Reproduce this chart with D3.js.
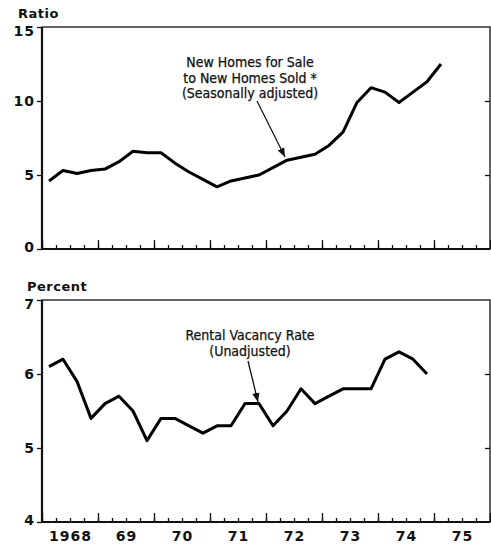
<!DOCTYPE html>
<html>
  <head>
    <meta http-equiv="Content-type" content="text/html; charset=utf-8">
    <title>Housing Ratios</title>
    <script src="https://d3js.org/d3.v7.min.js"></script>
    <style>
      body { margin: 0; background: #fff; }
      .tick text { font-family: "DejaVu Sans", sans-serif; font-weight: bold; font-size: 14px; letter-spacing: 1px; fill: #111; }
      .domain { display: none; }
      .note { font-family: "Liberation Sans Narrow", "DejaVu Sans Condensed", sans-serif; font-size: 14px; fill: #111; stroke: #111; stroke-width: 0.25px; }
      .unit { font-family: "DejaVu Sans", sans-serif; font-weight: bold; font-size: 13px; letter-spacing: 0.5px; fill: #111; }
    </style>
  </head>
  <body>
    <div id="chart"></div>
    <script type="text/javascript">
      // quarters 1968Q1 .. 1975Q1
      var years = [1968, 1969, 1970, 1971, 1972, 1973, 1974, 1975];
      var yearLabels = ["1968", "69", "70", "71", "72", "73", "74", "75"];

      // new homes for sale / new homes sold, quarterly
      var ratioValues = [4.6, 5.3, 5.1, 5.3, 5.4, 5.9, 6.6, 6.5, 6.5, 5.8, 5.2, 4.7, 4.2, 4.6, 4.8,
                         5.0, 5.5, 6.0, 6.2, 6.4, 7.0, 7.9, 9.9, 10.9, 10.6, 9.9, 10.6, 11.3, 12.5];
      // rental vacancy rate, quarterly
      var vacancyValues = [6.1, 6.2, 5.9, 5.4, 5.6, 5.7, 5.5, 5.1, 5.4, 5.4, 5.3, 5.2, 5.3, 5.3,
                           5.6, 5.6, 5.3, 5.5, 5.8, 5.6, 5.7, 5.8, 5.8, 5.8, 6.2, 6.3, 6.2, 6.0];
      var ratioTicks = [0, 5, 10, 15];
      var vacancyTicks = [4, 5, 6, 7];

      var width = 491, height = 548;
      var left = 42, right = 490;

      var svg = d3.select("#chart").append("svg")
        .attr("width", width)
        .attr("height", height);

      var x = d3.scaleLinear().domain([1968, 1976]).range([left, right]);
      // position of quarter i (middle of the quarter)
      function qx(d, i) { return x(1968 + (i + 0.5) / 4); }

      var quarterTicks = d3.range(1968, 1976.01, 0.25);
      var yearTicks = d3.range(1968, 1976.01, 1);

      function panel(top, bottom, domain, ticks, values, unitLabel, unitX) {
        var y = d3.scaleLinear().domain(domain).range([bottom, top]);
        var g = svg.append("g");

        // frame
        g.append("rect")
          .attr("x", left).attr("y", top)
          .attr("width", right - left).attr("height", bottom - top)
          .attr("fill", "none").attr("stroke", "#111").attr("stroke-width", 1.3);
        g.append("line").attr("x1", left).attr("x2", left).attr("y1", top).attr("y2", bottom)
          .attr("stroke", "#111").attr("stroke-width", 2.2);
        g.append("line").attr("x1", left).attr("x2", right).attr("y1", bottom).attr("y2", bottom)
          .attr("stroke", "#111").attr("stroke-width", 2.2);

        // left axis, ticks outside
        var la = g.append("g")
          .attr("transform", "translate(" + left + ",0)")
          .call(d3.axisLeft(y).tickValues(ticks).tickSize(5).tickPadding(2).tickFormat(d3.format("d")));
        la.selectAll("line").attr("stroke", "#111").attr("stroke-width", 1.3);
        // top label sits a little low, as in the print
        la.selectAll(".tick text").filter(function(d) { return d === domain[1]; }).attr("dy", "0.6em");
        la.selectAll(".tick text").filter(function(d) { return d === domain[0]; }).attr("dy", "0.15em");

        // right axis, ticks inside
        g.append("g")
          .attr("transform", "translate(" + right + ",0)")
          .call(d3.axisLeft(y).tickValues(ticks.slice(1, -1)).tickSize(5).tickFormat(""))
          .selectAll("line").attr("stroke", "#111").attr("stroke-width", 1.3);

        // quarter and year ticks pointing up
        g.append("g")
          .attr("transform", "translate(0," + bottom + ")")
          .call(d3.axisBottom(x).tickValues(quarterTicks).tickSize(-4).tickFormat(""))
          .selectAll("line").attr("stroke", "#111").attr("stroke-width", 1.3);
        g.append("g")
          .attr("transform", "translate(0," + bottom + ")")
          .call(d3.axisBottom(x).tickValues(yearTicks).tickSize(-9).tickFormat(""))
          .selectAll("line").attr("stroke", "#111").attr("stroke-width", 1.3);

        g.append("text").attr("class", "unit")
          .attr("x", unitX).attr("y", top - 9)
          .text(unitLabel);

        var line = d3.line()
          .x(qx)
          .y(function(d) { return y(d); })
          .curve(d3.curveLinear);

        g.append("path")
          .datum(values)
          .attr("d", line)
          .attr("fill", "none")
          .attr("stroke", "#000")
          .attr("stroke-width", 3)
          .attr("stroke-linejoin", "round");

        return y;
      }

      var yTop = panel(27, 249, [0, 15], ratioTicks, ratioValues, "Ratio", 18);
      var yBot = panel(300, 522, [4, 7], vacancyTicks, vacancyValues, "Percent", 27);

      // year labels centred in each year
      svg.append("g")
        .attr("transform", "translate(0,522)")
        .call(d3.axisBottom(x).tickValues(years.map(function(d) { return d + 0.5; }))
          .tickSize(0).tickPadding(9)
          .tickFormat(function(d, i) { return yearLabels[i]; }));

      // arrowhead
      svg.append("defs").append("marker")
        .attr("id", "arrow")
        .attr("viewBox", "0 0 10 10")
        .attr("refX", 10).attr("refY", 5)
        .attr("markerWidth", 7).attr("markerHeight", 7)
        .attr("orient", "auto")
        .append("path").attr("d", "M0,1L10,5L0,9Z").attr("fill", "#111");

      // annotations
      var note1 = ["New Homes for Sale", "to New Homes Sold *", "(Seasonally adjusted)"];
      svg.append("g").selectAll("text")
        .data(note1).enter().append("text")
        .attr("class", "note")
        .attr("text-anchor", "middle")
        .attr("x", 250)
        .attr("y", function(d, i) { return 67 + i * 15.5; })
        .text(function(d) { return d; });
      svg.append("line")
        .attr("x1", 257).attr("y1", 101).attr("x2", 285).attr("y2", 157)
        .attr("stroke", "#111").attr("stroke-width", 1.3)
        .attr("marker-end", "url(#arrow)");

      var note2 = ["Rental Vacancy Rate", "(Unadjusted)"];
      svg.append("g").selectAll("text")
        .data(note2).enter().append("text")
        .attr("class", "note")
        .attr("text-anchor", "middle")
        .attr("x", 250)
        .attr("y", function(d, i) { return 340 + i * 16; })
        .text(function(d) { return d; });
      svg.append("line")
        .attr("x1", 248).attr("y1", 361).attr("x2", 258).attr("y2", 402)
        .attr("stroke", "#111").attr("stroke-width", 1.3)
        .attr("marker-end", "url(#arrow)");
    </script>
  </body>
</html>
